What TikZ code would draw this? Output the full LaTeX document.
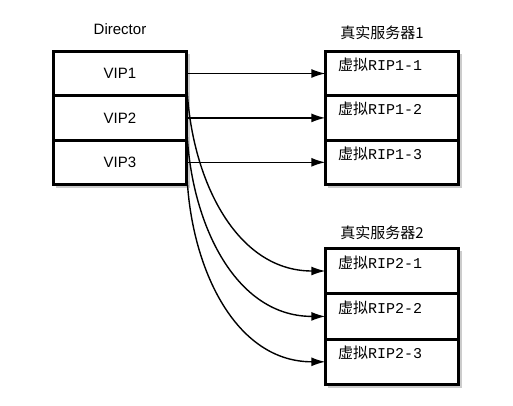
\documentclass[tikz,border=0pt]{standalone}
\usepackage{fontspec}
\setmainfont{Liberation Sans}
\newfontfamily\cjk{Noto Sans CJK SC}
\newfontfamily\ripmono{Liberation Mono}
\usetikzlibrary{positioning,arrows.meta,fit,backgrounds,shadows}
\newcommand{\rip}[1]{{\cjk 虚拟}{\ripmono RIP#1}}

\begin{document}
\begin{tikzpicture}[x=1pt,y=-1pt,
    row/.style={draw,line width=1.4pt,minimum width=132pt,minimum height=43pt,inner sep=0pt,
      font=\fontsize{15}{17}\selectfont},
    riprow/.style={row,align=left,text width=108pt,text height=10pt,text depth=16pt},
    frame/.style={draw,line width=2pt,inner sep=0pt,fill=white,
      drop shadow={shadow xshift=3pt,shadow yshift=-3pt,opacity=0.4}},
    link/.style={line width=1.4pt,-{Latex[length=14pt,width=9pt]}}]
  \useasboundingbox (0,0) rectangle (513,405);

  % Director
  \node[font=\fontsize{15}{17}\selectfont] (dir) at (120,29) {Director};
  \node[row] (vip1) at (120,73.5) {VIP1};
  \node[row,below=0pt of vip1] (vip2) {VIP2};
  \node[row,below=0pt of vip2] (vip3) {VIP3};

  % real server 1
  \node[font=\cjk\fontsize{15}{17}\selectfont] (srv1) at (382,33) {真实服务器1};
  \node[riprow] (ra1) at (392,73.5) {\rip{1-1}};
  \node[riprow,below=0pt of ra1] (ra2) {\rip{1-2}};
  \node[riprow,below=0pt of ra2] (ra3) {\rip{1-3}};

  % real server 2
  \node[font=\cjk\fontsize{15}{17}\selectfont] (srv2) at (382,233) {真实服务器2};
  \node[riprow,minimum height=44pt] (rb1) at (392,271) {\rip{2-1}};
  \node[riprow,minimum height=44pt,below=0pt of rb1] (rb2) {\rip{2-2}};
  \node[riprow,minimum height=44pt,below=0pt of rb2] (rb3) {\rip{2-3}};

  \begin{scope}[on background layer]
    \node[frame,fit=(vip1)(vip3)] (director) {};
    \node[frame,fit=(ra1)(ra3)] (server1) {};
    \node[frame,fit=(rb1)(rb3)] (server2) {};
  \end{scope}

  \foreach \i in {1,2,3}
    \draw[link] (vip\i.east) -- (ra\i.west);
  \foreach \i in {1,2,3}
    \draw[link] (vip\i.east) to[out=-90,in=180] (rb\i.west);
\end{tikzpicture}
\end{document}
